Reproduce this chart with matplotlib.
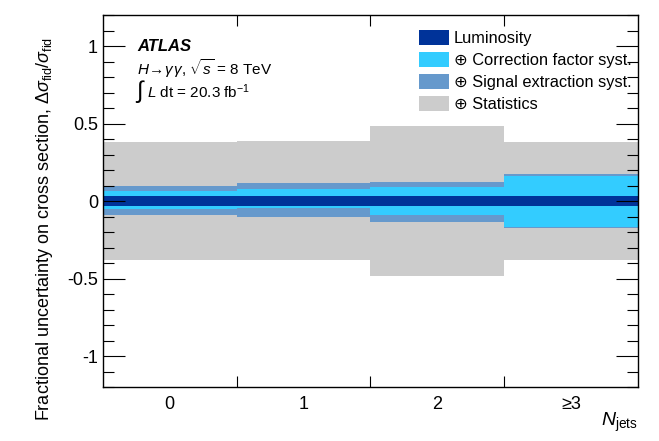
import matplotlib.pyplot as plt
from matplotlib.patches import Patch
from matplotlib.ticker import MultipleLocator

plt.rcParams['font.family'] = ['Liberation Sans', 'DejaVu Sans']
plt.rcParams['mathtext.fontset'] = 'custom'
plt.rcParams['mathtext.rm'] = 'Liberation Sans'
plt.rcParams['mathtext.it'] = 'Liberation Sans:italic'
plt.rcParams['mathtext.bf'] = 'Liberation Sans:bold'

# N_jets bins
bins = ['0', '1', '2', '≥3']

# cumulative fractional uncertainties (added in quadrature), upper / lower
lumi_up = [0.032, 0.032, 0.031, 0.031]
lumi_dn = [0.032, 0.032, 0.031, 0.031]
corr_up = [0.065, 0.075, 0.088, 0.161]
corr_dn = [0.054, 0.043, 0.090, 0.166]
sig_up = [0.097, 0.114, 0.125, 0.172]
sig_dn = [0.090, 0.105, 0.133, 0.176]
stat_up = [0.378, 0.387, 0.483, 0.378]
stat_dn = [0.378, 0.382, 0.482, 0.378]

layers = [
    ('⊕ Statistics', stat_up, stat_dn, '#cccccc'),
    ('⊕ Signal extraction syst.', sig_up, sig_dn, '#6699cc'),
    ('⊕ Correction factor syst.', corr_up, corr_dn, '#33ccff'),
    ('Luminosity', lumi_up, lumi_dn, '#003399'),
]

fig = plt.figure(figsize=(6.59, 4.41), dpi=100)
ax = fig.add_axes([0.156, 0.122, 0.812, 0.844])

x = list(range(len(bins)))
for label, up, dn, col in layers:
    ax.bar(x, [u + d for u, d in zip(up, dn)], bottom=[-d for d in dn],
           width=1.0, color=col, edgecolor='none', linewidth=0)

ax.set_xlim(-0.5, 3.5)
ax.set_ylim(-1.2, 1.2)

ax.set_xticks([0.5, 1.5, 2.5])
ax.set_xticklabels([])
ax.set_xticks(x, minor=True)
ax.set_xticklabels(bins, minor=True, fontsize=13)
ax.tick_params(axis='x', which='minor', length=0, pad=6)
ax.tick_params(axis='x', which='major', direction='in', length=8, top=True, width=0.8)

ax.yaxis.set_major_locator(MultipleLocator(0.5))
ax.yaxis.set_minor_locator(MultipleLocator(0.1))
ax.set_yticks([-1, -0.5, 0, 0.5, 1])
ax.set_yticklabels(['-1', '-0.5', '0', '0.5', '1'], fontsize=13)
ax.tick_params(axis='y', which='major', direction='in', length=16, right=True, width=0.8)
ax.tick_params(axis='y', which='minor', direction='in', length=8, right=True, width=0.8)
for s in ax.spines.values():
    s.set_linewidth(1.0)

ax.set_ylabel(r'Fractional uncertainty on cross section, $\Delta\sigma_{\mathrm{fid}}/\sigma_{\mathrm{fid}}$',
              fontsize=13)
ax.yaxis.set_label_coords(-0.09, 0.425)
ax.text(1.0, -0.105, r'$N_{\mathrm{jets}}$', transform=ax.transAxes,
        ha='right', va='baseline', fontsize=14)

# experiment label block
ax.text(0.064, 0.915, 'ATLAS', transform=ax.transAxes, fontsize=12,
        fontweight='bold', fontstyle='italic', va='center')
ax.text(0.064, 0.855, r'$H\!\rightarrow\!\gamma\,\gamma$, $\sqrt{s}$ = 8 TeV',
        transform=ax.transAxes, fontsize=11, va='center')
ax.text(0.062, 0.793, '∫', transform=ax.transAxes, fontsize=17, va='center')
ax.text(0.083, 0.795, r'$L$ dt = 20.3 fb$^{\mathregular{-1}}$',
        transform=ax.transAxes, fontsize=11, va='center')

handles = [Patch(facecolor=col, edgecolor='none', label=label)
           for label, up, dn, col in reversed(layers)]
ax.legend(handles=handles, loc='upper left', bbox_to_anchor=(0.578, 0.978),
          frameon=False, fontsize=11.8, handlelength=1.85, handleheight=1.05,
          handletextpad=0.3, labelspacing=0.36, borderaxespad=0)

fig.savefig('out.png', dpi=100)
